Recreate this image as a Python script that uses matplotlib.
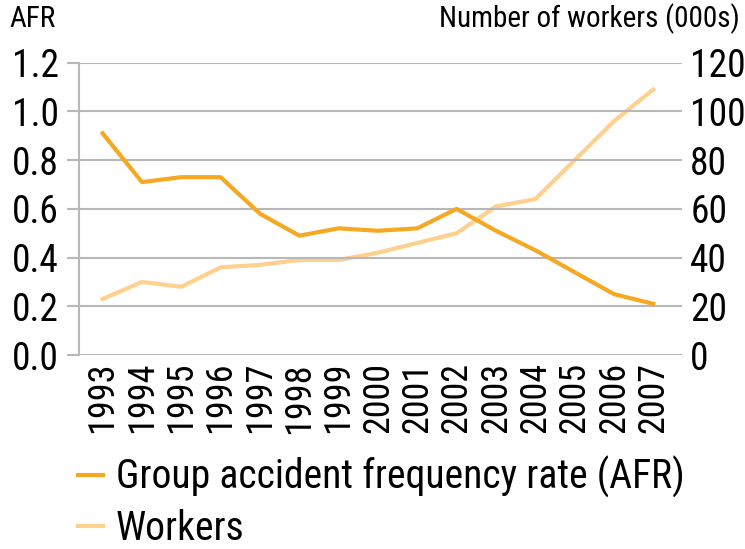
import numpy as np
import matplotlib
matplotlib.use("Agg")
import matplotlib.pyplot as plt

plt.rcParams["font.family"] = ["Roboto Condensed", "DejaVu Sans"]

# yillar ve seriler
years = [str(y) for y in range(1993, 2008)]
afr = [0.91, 0.71, 0.73, 0.73, 0.58, 0.49, 0.52, 0.51, 0.52, 0.60, 0.51, 0.43, 0.34, 0.25, 0.21]
workers = [23, 30, 28, 36, 37, 39, 39, 42, 46, 50, 61, 64, 80, 96, 109]

afr_color = "#F7A823"
workers_color = "#FFD08E"
grid_color = "#B8B8B8"

fig = plt.figure(figsize=(7.45, 5.49), dpi=100)
ax = fig.add_axes([79 / 745, 1 - 355 / 549, (682 - 79) / 745, (355 - 62.7) / 549])
ax2 = ax.twinx()

x = np.arange(len(years))
l1, = ax.plot(x, afr, color=afr_color, lw=3.0, zorder=3)
l2, = ax2.plot(x, workers, color=workers_color, lw=3.0, zorder=2)

ax.set_xlim(-0.6, 14.73)
ax.set_ylim(0, 1.2)
ax2.set_ylim(0, 120)
ax.set_yticks(np.arange(0, 1.21, 0.2))
ax.set_yticklabels([f"{v:.1f}" for v in np.arange(0, 1.21, 0.2)])
ax2.set_yticks(range(0, 121, 20))

ax.set_xticks(x)
ax.set_xticklabels(years, rotation=90, fontsize=26)
ax.tick_params(axis="x", length=0, pad=5)
ax.tick_params(axis="y", length=8.6, width=1.5, color=grid_color, labelsize=27, pad=6)
ax2.tick_params(axis="y", length=0, labelsize=27, pad=6)

ax.grid(axis="y", color=grid_color, lw=1.5)
ax.set_axisbelow(True)
for a in (ax, ax2):
    for s in ["top", "right", "bottom"]:
        a.spines[s].set_visible(False)
ax2.spines["left"].set_visible(False)
ax.spines["left"].set_color(grid_color)
ax.spines["left"].set_linewidth(1.5)
ax.set_zorder(ax2.get_zorder() + 1)
ax.patch.set_visible(False)

fig.text(9 / 745, 1 - 19 / 549, "AFR", fontsize=21, va="center", ha="left")
fig.text(740 / 745, 1 - 19 / 549, "Number of workers (000s)", fontsize=21, va="center", ha="right")

fig.legend([l1, l2], ["Group accident frequency rate (AFR)", "Workers"],
           loc="upper left", bbox_to_anchor=(78 / 745, 1 - 456 / 549),
           frameon=False, fontsize=28.5, handlelength=0.62, handletextpad=0.33,
           labelspacing=0.27, borderaxespad=0, borderpad=0)

fig.savefig("out.png", dpi=100)
